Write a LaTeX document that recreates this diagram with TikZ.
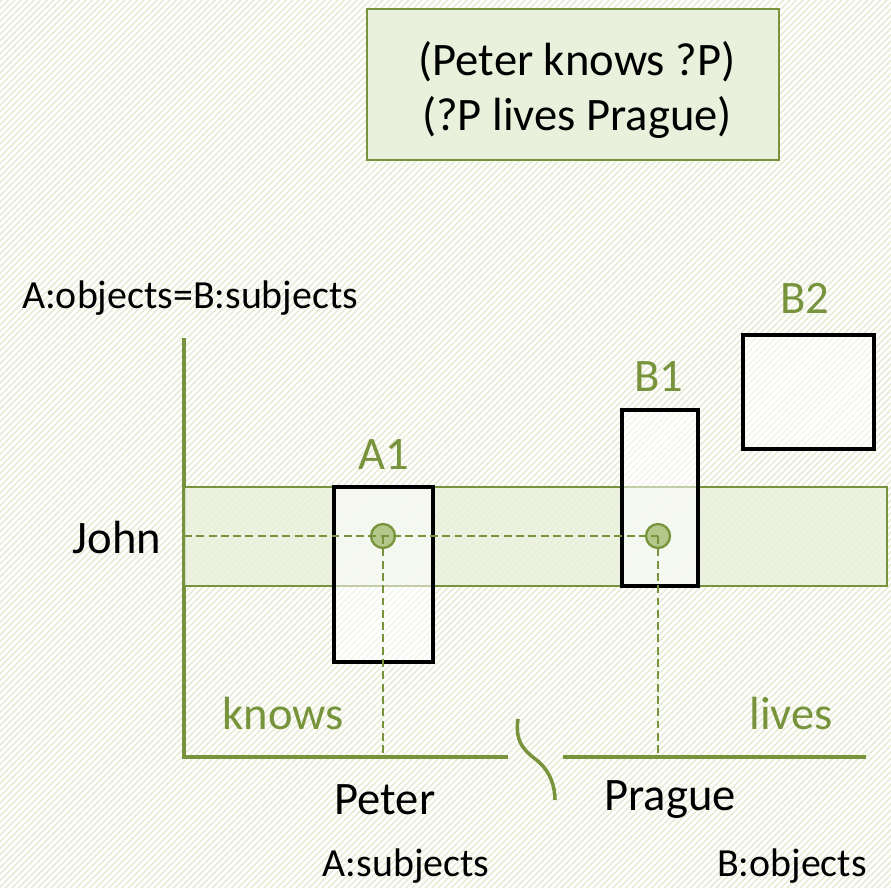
\documentclass[tikz,border=0pt]{standalone}
\usepackage{fontspec}
\setmainfont{Carlito}
\usetikzlibrary{patterns.meta}
\definecolor{oliveLine}{RGB}{119,147,60}
\definecolor{oliveFill}{RGB}{233,240,219}
\definecolor{oliveDot}{RGB}{179,199,138}
\definecolor{hatchTint}{RGB}{231,235,212}

\begin{document}
\begin{tikzpicture}[x=0.02cm,y=-0.02cm,
  axisline/.style={draw=oliveLine,line width=2pt},
  guide/.style={draw=oliveLine,dash pattern=on 4.5pt off 2.5pt,line width=1.1pt},
  blockbox/.style={draw=black,line width=2.2pt,fill=white,fill opacity=0.55},
  bigtxt/.style={font=\fontsize{26.5}{31}\selectfont},
  smalltxt/.style={font=\fontsize{22.7}{27}\selectfont},
  greentxt/.style={bigtxt,text=oliveLine},
  matchdot/.style={circle,draw=oliveLine,fill=oliveDot,line width=1.3pt,minimum size=0.48cm,inner sep=0pt}]
\useasboundingbox (0,0) rectangle (891,887);
% faint hatched background
\fill[white] (0,0) rectangle (891,887);
\fill[pattern={Lines[angle=45,distance=2.6pt,line width=0.9pt]},pattern color=hatchTint] (0,0) rectangle (891,887);

% query box
\draw[draw=oliveLine,fill=oliveFill,line width=1.4pt] (367,9) rectangle (779,160);
\node[bigtxt,align=center] (query) at (577,90) {(Peter knows ?P)\\(?P lives Prague)};

% axes
\coordinate (yTop) at (184,338);
\coordinate (origin) at (184,757);
\coordinate (gapL) at (508,757);
\coordinate (gapR) at (563,757);
\coordinate (xEnd) at (866,757);
\draw[axisline] (yTop) -- (origin) -- (gapL);
\draw[axisline] (gapR) -- (xEnd);
\draw[axisline] (518,719) .. controls (514,745) and (528,753) .. (539,762) .. controls (550,772) and (555,786) .. (555,800);

% John band
\draw[draw=oliveLine,fill=oliveFill,fill opacity=0.8,line width=1.4pt] (184,487) rectangle (887,586);

% blocks
\draw[blockbox] (334,487) rectangle (433,662);
\draw[blockbox] (622,410) rectangle (698,586);
\draw[blockbox] (743,335) rectangle (874,449);
\node[greentxt] (labA1) at (384,455) {A1};
\node[greentxt] (labB1) at (659,377) {B1};
\node[greentxt] (labB2) at (805,298) {B2};

% matches
\node[matchdot] (dotA) at (383,536) {};
\node[matchdot] (dotB) at (658,536) {};
\coordinate (johnEnd) at (184,536);
\coordinate (peterEnd) at (383,757);
\coordinate (pragueEnd) at (658,757);
\draw[guide] (johnEnd) -- (dotB.center);
\draw[guide] (dotA.center) -- (peterEnd);
\draw[guide] (dotB.center) -- (pragueEnd);

% labels
\node[smalltxt,anchor=west] (axisName) at (16,298) {A:objects=B:subjects};
\node[bigtxt] (john) at (117,537) {John};
\node[greentxt] (knows) at (283,713) {knows};
\node[greentxt] (lives) at (791,713) {lives};
\node[bigtxt] (peter) at (385,800) {Peter};
\node[bigtxt] (prague) at (670,800) {Prague};
\node[smalltxt] (subjA) at (406,866) {A:subjects};
\node[smalltxt] (objB) at (792,866) {B:objects};
\end{tikzpicture}
\end{document}
